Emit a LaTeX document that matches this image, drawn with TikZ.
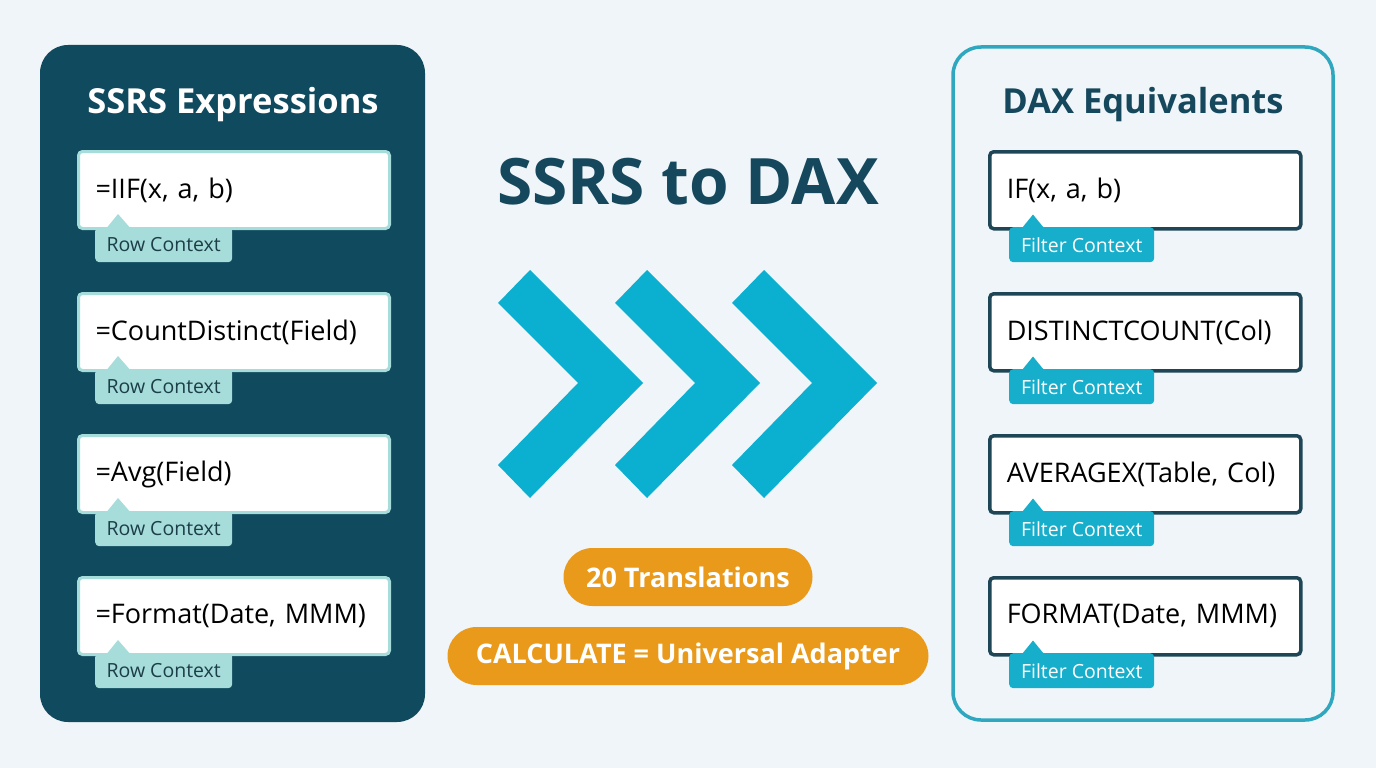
\documentclass[tikz,border=0pt]{standalone}
\usepackage{fontspec}
\setmainfont{Open Sans}
\definecolor{pagebg}{HTML}{F0F5F9}
\definecolor{navy}{HTML}{0F4A5E}
\definecolor{titleink}{HTML}{15485C}
\definecolor{chev}{HTML}{0BB0D0}
\definecolor{filtertag}{HTML}{17AECB}
\definecolor{daxedge}{HTML}{2EA7BF}
\definecolor{rowtag}{HTML}{A6DDDA}
\definecolor{rowink}{HTML}{1C3E48}
\definecolor{boxedge}{HTML}{1E4656}
\definecolor{amber}{HTML}{E99A1B}
\tikzset{
  exprbox/.style={draw=rowtag, line width=3pt, fill=white, rounded corners=4pt,
    anchor=north west, minimum width=311pt, minimum height=77pt,
    text width=277pt, align=left, inner xsep=16pt, font=\fontsize{27}{31}\selectfont},
  daxbox/.style={exprbox, draw=boxedge, line width=3.5pt},
  rowlabel/.style={fill=rowtag, text=rowink, rounded corners=4pt, anchor=north west,
    minimum width=137pt, minimum height=35pt, inner sep=0pt, font=\fontsize{19.5}{22}\selectfont},
  filterlabel/.style={rowlabel, fill=filtertag, text=white, minimum width=145pt},
  pill/.style={fill=amber, text=white, rounded corners=29pt, minimum height=58pt,
    font=\bfseries\fontsize{27}{31}\selectfont}
}
\begin{document}
\begin{tikzpicture}[x=1pt,y=-1pt]
\useasboundingbox (0,0) rectangle (1376,768);
\fill[pagebg] (0,0) rectangle (1376,768);
% panels
\fill[navy, rounded corners=28pt] (40,45) rectangle (425,722);
\draw[daxedge, line width=3.5pt, rounded corners=28pt] (953,47) rectangle (1333,720);
\node[text=white, font=\bfseries\fontsize{34.5}{40}\selectfont] (ssrstitle) at (233,105) {SSRS Expressions};
\node[text=titleink, font=\bfseries\fontsize{34.5}{40}\selectfont] (daxtitle) at (1143,105) {DAX Equivalents};
\node[text=titleink, font=\bfseries\fontsize{64}{70}\selectfont] (maintitle) at (688,182) {SSRS to DAX};
% left column
\begin{scope}[shift={(0,0)}]
\node[exprbox] (ssrs1) at (77,150) {=IIF(x, a, b)};
\fill[rowtag] ([xshift=28pt]ssrs1.south west) -- ([xshift=41pt,yshift=16pt]ssrs1.south west) -- ([xshift=55pt]ssrs1.south west) -- cycle;
\node[rowlabel] (ssrs1tag) at (95,227) {Row Context};
\end{scope}
\begin{scope}[shift={(0,142)}]
\node[exprbox] (ssrs2) at (77,150) {=CountDistinct(Field)};
\fill[rowtag] ([xshift=28pt]ssrs2.south west) -- ([xshift=41pt,yshift=16pt]ssrs2.south west) -- ([xshift=55pt]ssrs2.south west) -- cycle;
\node[rowlabel] (ssrs2tag) at (95,227) {Row Context};
\end{scope}
\begin{scope}[shift={(0,284)}]
\node[exprbox] (ssrs3) at (77,150) {=Avg(Field)};
\fill[rowtag] ([xshift=28pt]ssrs3.south west) -- ([xshift=41pt,yshift=16pt]ssrs3.south west) -- ([xshift=55pt]ssrs3.south west) -- cycle;
\node[rowlabel] (ssrs3tag) at (95,227) {Row Context};
\end{scope}
\begin{scope}[shift={(0,426)}]
\node[exprbox] (ssrs4) at (77,150) {=Format(Date, MMM)};
\fill[rowtag] ([xshift=28pt]ssrs4.south west) -- ([xshift=41pt,yshift=16pt]ssrs4.south west) -- ([xshift=55pt]ssrs4.south west) -- cycle;
\node[rowlabel] (ssrs4tag) at (95,227) {Row Context};
\end{scope}
% right column
\begin{scope}[shift={(0,0)}]
\node[daxbox] (dax1) at (988,150) {IF(x, a, b)};
\fill[filtertag] ([xshift=32pt]dax1.south west) -- ([xshift=45pt,yshift=16pt]dax1.south west) -- ([xshift=58pt]dax1.south west) -- cycle;
\node[filterlabel] (dax1tag) at (1009,227) {Filter Context};
\end{scope}
\begin{scope}[shift={(0,142)}]
\node[daxbox] (dax2) at (988,150) {DISTINCTCOUNT(Col)};
\fill[filtertag] ([xshift=32pt]dax2.south west) -- ([xshift=45pt,yshift=16pt]dax2.south west) -- ([xshift=58pt]dax2.south west) -- cycle;
\node[filterlabel] (dax2tag) at (1009,227) {Filter Context};
\end{scope}
\begin{scope}[shift={(0,284)}]
\node[daxbox] (dax3) at (988,150) {AVERAGEX(Table, Col)};
\fill[filtertag] ([xshift=32pt]dax3.south west) -- ([xshift=45pt,yshift=16pt]dax3.south west) -- ([xshift=58pt]dax3.south west) -- cycle;
\node[filterlabel] (dax3tag) at (1009,227) {Filter Context};
\end{scope}
\begin{scope}[shift={(0,426)}]
\node[daxbox] (dax4) at (988,150) {FORMAT(Date, MMM)};
\fill[filtertag] ([xshift=32pt]dax4.south west) -- ([xshift=45pt,yshift=16pt]dax4.south west) -- ([xshift=58pt]dax4.south west) -- cycle;
\node[filterlabel] (dax4tag) at (1009,227) {Filter Context};
\end{scope}
% chevrons
\fill[chev] (498,303) -- (530,270) -- (643,383) -- (530,498) -- (498,465) -- (578,383) -- cycle;
\fill[chev] (615,303) -- (647,270) -- (760,383) -- (647,498) -- (615,465) -- (695,383) -- cycle;
\fill[chev] (732,303) -- (764,270) -- (877,383) -- (764,498) -- (732,465) -- (812,383) -- cycle;
% badges
\node[pill, minimum width=249pt] (count) at (688,577) {20 Translations};
\node[pill, minimum width=481pt] (adapter) at (688,656) {CALCULATE = Universal Adapter};
\end{tikzpicture}
\end{document}
